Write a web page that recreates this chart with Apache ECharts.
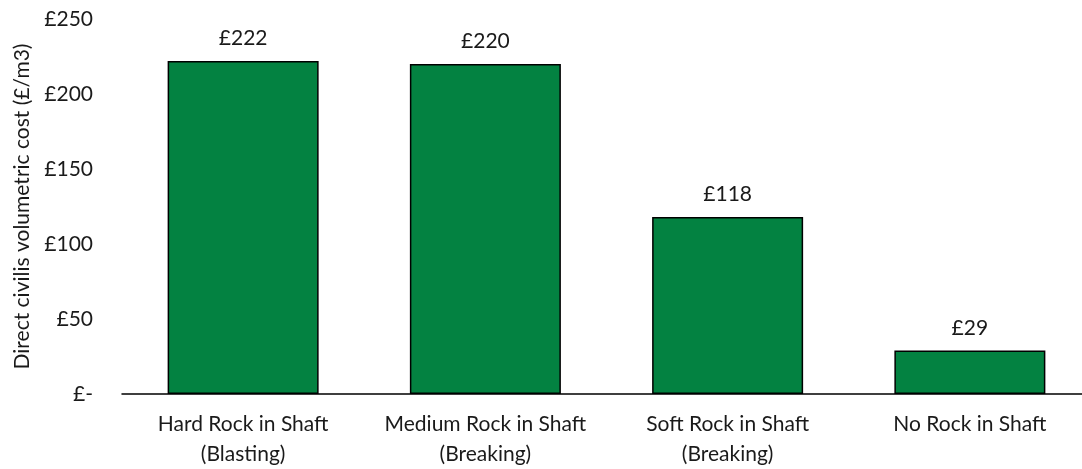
<!DOCTYPE html>
<html>
<head>
<meta charset="utf-8">
<script src="https://cdn.jsdelivr.net/npm/echarts@6/dist/echarts.min.js"></script>
<style>
  html, body { margin: 0; padding: 0; background: #fff; overflow: hidden; }
  /* the plot runs a little past the right edge of the page */
  #chart { width: 1091px; height: 469px; }
</style>
</head>
<body>
<div id="chart"></div>
<script>
// Shaft excavation scenarios and their direct civils volumetric cost (£/m3)
const categories = [
  'Hard Rock in Shaft\n(Blasting)',
  'Medium Rock in Shaft\n(Breaking)',
  'Soft Rock in Shaft\n(Breaking)',
  'No Rock in Shaft'
];
const costs = [222, 220, 118, 29];
const yTicks = [0, 50, 100, 150, 200, 250];

const FONT = 'Lato, "Open Sans", sans-serif';
const TEXT = '#1a1a1a';
const chart = echarts.init(document.getElementById('chart'));

chart.setOption({
  animation: false,
  grid: { left: 122, right: 0, top: 19, height: 375, containLabel: false },
  xAxis: {
    type: 'category',
    data: categories,
    axisLine: { lineStyle: { color: '#000', width: 1.5 } },
    axisTick: { show: false },
    axisLabel: {
      color: TEXT, fontFamily: FONT, fontSize: 21, lineHeight: 30, margin: 15,
      interval: 0
    }
  },
  yAxis: {
    type: 'value',
    min: yTicks[0],
    max: yTicks[yTicks.length - 1],
    interval: 50,
    name: 'Direct civilis volumetric cost (£/m3)',
    nameLocation: 'middle',
    nameGap: 89,
    nameTextStyle: { color: TEXT, fontFamily: FONT, fontSize: 21 },
    axisLine: { show: false },
    axisTick: { show: false },
    splitLine: { show: false },
    axisLabel: {
      color: TEXT, fontFamily: FONT, fontSize: 21, margin: 29,
      formatter: v => (v === 0 ? '£-' : '£' + v)
    }
  },
  series: [{
    type: 'bar',
    data: costs,
    barWidth: 151,
    itemStyle: { color: '#038241', borderColor: '#000', borderWidth: 1.5 },
    label: {
      show: true, position: 'top', distance: 12,
      color: TEXT, fontFamily: FONT, fontSize: 21,
      formatter: p => '£' + p.value
    }
  }]
});
</script>
</body>
</html>
